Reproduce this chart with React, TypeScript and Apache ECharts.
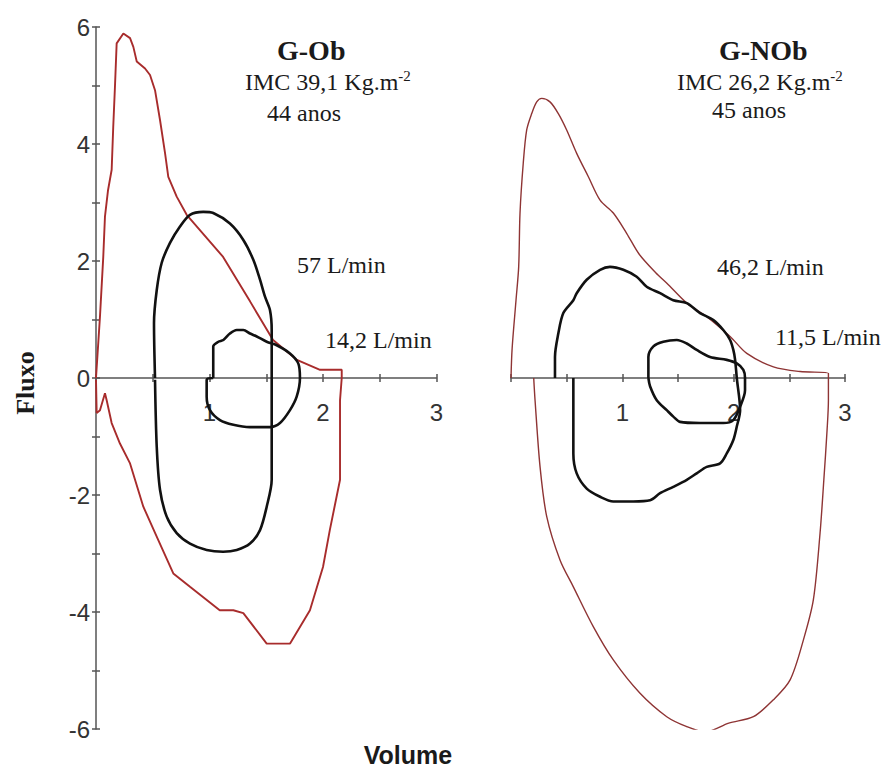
import React, { useEffect, useRef } from "react";
import * as echarts from "echarts";

// G-Ob (left panel): maximal flow-volume curve and tidal loops (exercise 57 L/min, rest 14,2 L/min)
const obMaxCurve: [number, number][] = [
  [0, 0], [0.035, 1.05], [0.064, 2.07], [0.079, 2.76], [0.106, 3.21], [0.138, 3.56], [0.152, 4.3],
  [0.167, 4.98], [0.182, 5.72], [0.241, 5.89], [0.3, 5.81], [0.329, 5.66], [0.359, 5.41],
  [0.432, 5.29], [0.476, 5.18], [0.52, 4.92], [0.564, 4.41], [0.608, 3.85], [0.637, 3.44],
  [0.711, 3.1], [0.799, 2.79], [1.12, 2.07], [1.357, 1.31], [1.56, 0.65], [1.77, 0.31],
  [1.974, 0.14], [2.165, 0.14], [2.165, 0],
  [2.15, -0.38], [2.15, -1.74], [2.06, -2.6], [2.0, -3.23], [1.885, -3.97], [1.71, -4.54],
  [1.504, -4.54], [1.298, -4.02], [1.21, -3.97], [1.09, -3.97], [0.828, -3.57], [0.681, -3.34],
  [0.535, -2.71], [0.417, -2.2], [0.3, -1.46], [0.211, -1.12], [0.138, -0.77], [0.094, -0.38],
  [0.079, -0.26], [0.035, -0.55], [0.006, -0.6], [0, -0.03],
];

const obLoopExercise: [number, number][] = [
  [0.52, 0], [0.511, 0.94], [0.535, 1.5], [0.579, 1.97], [0.652, 2.31], [0.74, 2.59], [0.828, 2.79],
  [0.945, 2.84], [1.033, 2.82], [1.18, 2.64], [1.298, 2.36], [1.386, 2.02], [1.445, 1.68],
  [1.489, 1.39], [1.533, 1.16], [1.548, 0.82], [1.548, 0], [1.548, -1.74], [1.504, -2.2],
  [1.445, -2.6], [1.357, -2.83], [1.24, -2.94], [1.12, -2.97], [0.975, -2.94], [0.828, -2.83],
  [0.711, -2.65], [0.623, -2.37], [0.564, -1.91], [0.535, -1.17], [0.52, -0.03],
];

const obLoopRest: [number, number][] = [
  [1.033, 0], [1.033, 0.54], [1.078, 0.62], [1.122, 0.65], [1.18, 0.76], [1.24, 0.82], [1.298, 0.82],
  [1.357, 0.76], [1.416, 0.71], [1.504, 0.62], [1.592, 0.56], [1.709, 0.42], [1.782, 0.25],
  [1.797, 0], [1.768, -0.32], [1.709, -0.55], [1.621, -0.77], [1.533, -0.84], [1.357, -0.84],
  [1.21, -0.8], [1.092, -0.72], [1.004, -0.55], [0.975, -0.32], [0.975, -0.03], [1.033, 0],
];

// G-NOb (right panel)
const nobMaxCurve: [number, number][] = [
  [0, 0], [0.01, 0.5], [0.045, 1.33], [0.069, 1.9], [0.081, 2.82], [0.11, 3.67], [0.141, 4.24],
  [0.186, 4.52], [0.231, 4.72], [0.276, 4.78], [0.35, 4.72], [0.425, 4.52], [0.5, 4.24],
  [0.59, 3.84], [0.695, 3.44], [0.8, 3.04], [0.919, 2.82], [1.04, 2.47], [1.15, 2.12],
  [1.3, 1.8], [1.4, 1.62], [1.579, 1.28], [1.758, 1.05], [1.968, 0.71], [2.118, 0.42],
  [2.357, 0.19], [2.597, 0.11], [2.851, 0.08], [2.851, 0],
  [2.851, -0.38], [2.839, -0.89], [2.81, -1.74], [2.776, -2.65], [2.716, -3.79], [2.626, -4.48],
  [2.507, -5.16], [2.357, -5.5], [2.177, -5.79], [1.956, -5.9], [1.746, -6.05], [1.579, -5.96],
  [1.399, -5.79], [1.159, -5.39], [0.919, -4.82], [0.739, -4.25], [0.56, -3.57], [0.44, -3.11],
  [0.321, -2.37], [0.261, -1.52], [0.216, -0.38], [0.204, 0],
];

const nobLoopExercise: [number, number][] = [
  [0.395, 0], [0.395, 0.36], [0.425, 0.76], [0.47, 1.11], [0.56, 1.33], [0.59, 1.45], [0.68, 1.68],
  [0.8, 1.85], [0.889, 1.9], [1.009, 1.85], [1.129, 1.73], [1.219, 1.56], [1.339, 1.45],
  [1.458, 1.33], [1.579, 1.28], [1.698, 1.11], [1.818, 0.99], [1.907, 0.82], [1.968, 0.65],
  [1.997, 0.48], [2.013, 0.31], [2.028, 0], [2.058, -0.55], [2.028, -0.83], [1.997, -1.06],
  [1.938, -1.29], [1.878, -1.46], [1.758, -1.52], [1.668, -1.63], [1.579, -1.74], [1.458, -1.86],
  [1.339, -1.97], [1.249, -2.09], [1.099, -2.11], [0.919, -2.11], [0.8, -2.03], [0.68, -1.89],
  [0.59, -1.63], [0.56, -1.29], [0.56, 0],
];

const nobLoopRest: [number, number][] = [
  [1.234, 0], [1.234, 0.36], [1.279, 0.54], [1.368, 0.62], [1.489, 0.65], [1.579, 0.59],
  [1.668, 0.48], [1.788, 0.36], [1.938, 0.31], [2.028, 0.25], [2.087, 0.14], [2.102, 0],
  [2.102, -0.21], [2.058, -0.49], [1.997, -0.72], [1.907, -0.77], [1.698, -0.77], [1.518, -0.75],
  [1.458, -0.66], [1.399, -0.55], [1.309, -0.38], [1.249, -0.14], [1.234, 0],
];

const xTickLabels = ["1", "2", "3"];
const yTickLabels = ["-6", "-4", "-2", "0", "2", "4", "6"];

const SERIF = "'Liberation Serif', 'Times New Roman', serif";
const SANS = "'Liberation Sans', Arial, sans-serif";
const AXIS = "#555";
const RED = "#a82c2c";
const BLACK = "#111";

const GRID_H = 702;
const HALF = GRID_H / 2;

function xAxes(gridIndex: number) {
  const base = {
    gridIndex,
    type: "value" as const,
    min: 0,
    max: 3,
    interval: 0.5,
    offset: -HALF,
    splitLine: { show: false },
  };
  return [
    {
      ...base,
      position: "bottom",
      axisLine: { show: true, onZero: false, lineStyle: { color: AXIS, width: 1.5 } },
      axisTick: { show: true, length: 4, lineStyle: { color: AXIS, width: 1.5 } },
      axisLabel: {
        margin: 22,
        fontSize: 24,
        fontFamily: SANS,
        color: "#333",
        formatter: (v: number) => (xTickLabels.includes(String(v)) ? String(v) : ""),
      },
    },
    {
      ...base,
      position: "top",
      axisLine: { show: false, onZero: false },
      axisTick: { show: true, length: 4, lineStyle: { color: AXIS, width: 1.5 } },
      axisLabel: { show: false },
    },
  ];
}

export default function App() {
  const ref = useRef<HTMLDivElement>(null);

  useEffect(() => {
    if (!ref.current) return;
    const chart = echarts.init(ref.current, undefined, { renderer: "svg" });

    const lineSeries = (
      data: [number, number][],
      g: number,
      color: string,
      width: number,
      smooth: number
    ) => ({
      type: "line",
      xAxisIndex: g * 2,
      yAxisIndex: g === 0 ? 0 : 2,
      data,
      symbol: "none",
      showSymbol: false,
      silent: true,
      smooth,
      z: 3,
      lineStyle: { color, width },
    });

    const text = (t: string, x: number, y: number, size: number, bold = false, family = SERIF) => ({
      type: "text",
      x,
      y,
      style: {
        text: t,
        fill: "#1a1a1a",
        fontSize: size,
        fontWeight: bold ? "bold" : "normal",
        fontFamily: family,
        align: "left",
        verticalAlign: "middle",
      },
    });

    const imc = (value: string, x: number, y: number) => ({
      type: "text",
      x,
      y,
      style: {
        text: `{a|IMC ${value} Kg.m}{s|-2}`,
        align: "left",
        verticalAlign: "middle",
        rich: {
          a: { fontSize: 24, fontFamily: SERIF, fill: "#1a1a1a", lineHeight: 28, verticalAlign: "middle" },
          s: { fontSize: 15, fontFamily: SERIF, fill: "#1a1a1a", lineHeight: 14, verticalAlign: "top" },
        },
      },
    });

    chart.setOption({
      animation: false,
      backgroundColor: "#fff",
      grid: [
        { left: 96, top: 27, width: 340.5, height: GRID_H },
        { left: 511, top: 27, width: 334, height: GRID_H },
      ],
      xAxis: [...xAxes(0), ...xAxes(1)],
      yAxis: [
        {
          gridIndex: 0,
          type: "value",
          min: -6,
          max: 6,
          interval: 1,
          position: "left",
          splitLine: { show: false },
          axisLine: { show: true, onZero: false, lineStyle: { color: AXIS, width: 1.5 } },
          axisTick: { show: true, length: 4, lineStyle: { color: AXIS, width: 1.5 } },
          axisLabel: {
            margin: 6,
            fontSize: 24,
            fontFamily: SANS,
            color: "#333",
            formatter: (v: number) => (yTickLabels.includes(String(v)) ? String(v) : ""),
          },
        },
        {
          gridIndex: 0,
          type: "value",
          min: -6,
          max: 6,
          interval: 1,
          position: "right",
          offset: -340.5,
          splitLine: { show: false },
          axisLine: { show: false, onZero: false },
          axisTick: { show: true, length: 4, lineStyle: { color: AXIS, width: 1.5 } },
          axisLabel: { show: false },
        },
        {
          gridIndex: 1,
          type: "value",
          min: -6,
          max: 6,
          interval: 1,
          show: false,
        },
      ],
      series: [
        lineSeries(obMaxCurve, 0, RED, 1.9, 0),
        lineSeries(obLoopExercise, 0, BLACK, 2.6, 0.3),
        lineSeries(obLoopRest, 0, BLACK, 2.6, 0.3),
        lineSeries(nobMaxCurve, 1, "#8e3434", 1.4, 0.3),
        lineSeries(nobLoopExercise, 1, BLACK, 2.6, 0.3),
        lineSeries(nobLoopRest, 1, BLACK, 2.6, 0.3),
      ],
      graphic: [
        text("G-Ob", 277, 50, 28, true),
        imc("39,1", 245, 82),
        text("44 anos", 267, 113, 24),
        text("57 L/min", 297, 265, 24),
        text("14,2 L/min", 325, 340, 24),
        text("G-NOb", 719, 50, 28, true),
        imc("26,2", 677, 82),
        text("45 anos", 712, 110, 24),
        text("46,2 L/min", 717, 267, 24),
        text("11,5 L/min", 775, 337, 24),
        {
          type: "text",
          x: 25,
          y: 383,
          rotation: Math.PI / 2,
          style: {
            text: "Fluxo",
            fill: "#1a1a1a",
            fontSize: 26,
            fontWeight: "bold",
            fontFamily: SERIF,
            align: "center",
            verticalAlign: "middle",
          },
        },
        {
          type: "text",
          x: 408,
          y: 755,
          style: {
            text: "Volume",
            fill: "#1a1a1a",
            fontSize: 25,
            fontWeight: "bold",
            fontFamily: SANS,
            align: "center",
            verticalAlign: "middle",
          },
        },
      ],
    });

    return () => chart.dispose();
  }, []);

  return (
    <div
      ref={ref}
      style={{ position: "absolute", left: 0, top: 0, width: 884, height: 772, background: "#fff" }}
    />
  );
}
